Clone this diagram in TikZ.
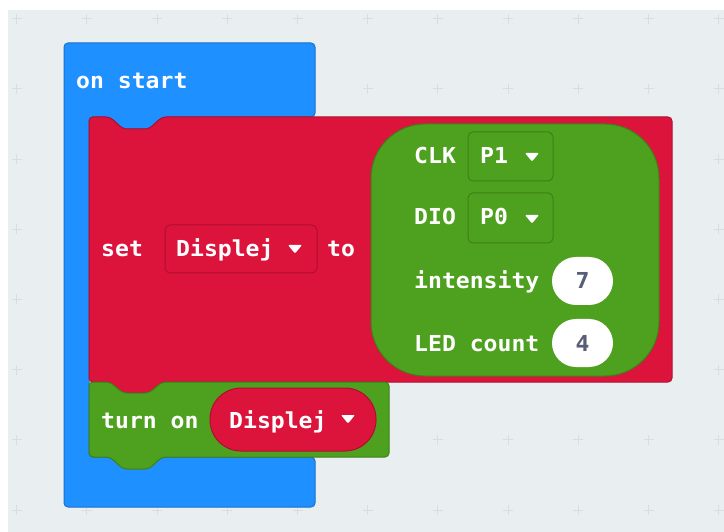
\documentclass[tikz,border=0pt]{standalone}
\usepackage{fontspec}
\newfontfamily\blk[FakeStretch=1.05]{DejaVu Sans Mono}
\definecolor{ws}{HTML}{E9EEF0}
\definecolor{gridc}{HTML}{D8DDE0}
\definecolor{evblue}{HTML}{1E90FF}
\definecolor{evblueD}{HTML}{1873CC}
\definecolor{varred}{HTML}{DC143C}
\definecolor{varredD}{HTML}{B00F30}
\definecolor{tmgreen}{HTML}{4EA01F}
\definecolor{tmgreenD}{HTML}{3E8018}
\definecolor{numtxt}{HTML}{575E75}
\tikzset{
  lbl/.style={font=\blk\bfseries\fontsize{22}{26}\selectfont, text=white, inner sep=0pt, anchor=base west},
  numlbl/.style={font=\blk\bfseries\fontsize{22}{26}\selectfont, text=numtxt, inner sep=0pt, anchor=base},
  drop/.style={fill=white, rounded corners=1pt},
}
\begin{document}
\begin{tikzpicture}[x=1pt,y=-1pt]
\useasboundingbox (0,0) rectangle (724,532);
% page and workspace
\fill[white] (0,0) rectangle (724,532);
\fill[ws] (8,10) rectangle (724,532);
% workspace grid crosses
\foreach \i in {0,...,10}
  \foreach \j in {0,...,7}
    \draw[gridc, line width=1pt] ({16.7+70.2*\i-5},{18.7+70.2*\j}) -- ++(10,0)
      ({16.7+70.2*\i},{18.7+70.2*\j-5}) -- ++(0,10);

% "on start" event block with its statement mouth
\draw[fill=evblue, draw=evblueD, line width=1pt, rounded corners=4pt]
  (64,43) -- (315,43) -- (315,117) -- (162,117) -- (149,129) -- (123,129) -- (110,117)
  -- (89,117) -- (89,457) -- (315,457) -- (315,507) -- (64,507) -- cycle;

% "set ... to" variable block
\draw[fill=varred, draw=varredD, line width=1pt, rounded corners=4pt]
  (89,117) -- (110,117) -- (123,129) -- (149,129) -- (162,117) -- (672,117)
  -- (672,382) -- (162,382) -- (149,393) -- (123,393) -- (110,382) -- (89,382) -- cycle;

% "turn on" block
\draw[fill=tmgreen, draw=tmgreenD, line width=1pt, rounded corners=4pt]
  (89,382) -- (110,382) -- (123,393) -- (149,393) -- (162,382) -- (389,382)
  -- (389,457) -- (162,457) -- (149,469) -- (123,469) -- (110,457) -- (89,457) -- cycle;

% TM1637 create reporter
\draw[fill=tmgreen, draw=tmgreenD, line width=1pt, rounded corners=54pt]
  (371,124) rectangle (659,376);

% dropdown fields
\draw[fill=varred, draw=varredD, line width=1pt, rounded corners=5pt] (165,225) rectangle (317,273);
\draw[fill=tmgreen, draw=tmgreenD, line width=1pt, rounded corners=5pt] (468,132) rectangle (553,181);
\draw[fill=tmgreen, draw=tmgreenD, line width=1pt, rounded corners=5pt] (468,193) rectangle (553,243);
\draw[fill=varred, draw=varredD, line width=1pt, rounded corners=31pt] (210,388) rectangle (376,451);

% number fields
\fill[white, rounded corners=24pt] (552,257) rectangle (613,305);
\fill[white, rounded corners=24pt] (552,319) rectangle (613,367);

% dropdown arrows
\foreach \cx/\cy in {295/249, 532/157, 532/219, 348/419}
  \fill[drop] (\cx-7,\cy-4) -- (\cx+7,\cy-4) -- (\cx,\cy+4.5) -- cycle;

% labels
\node[lbl] (onstart) at (76,89) {on start};
\node[lbl] (set) at (101,257) {set};
\node[lbl] (setvar) at (176,257) {Displej};
\node[lbl] (to) at (327,257) {to};
\node[lbl] (clk) at (414,164) {CLK};
\node[lbl] (clkpin) at (480,164) {P1};
\node[lbl] (dio) at (414,225) {DIO};
\node[lbl] (diopin) at (480,225) {P0};
\node[lbl] (intensity) at (414,288) {intensity};
\node[numlbl] (intval) at (582.5,288) {7};
\node[lbl] (ledcount) at (414,352) {LED count};
\node[numlbl] (ledval) at (582.5,352) {4};
\node[lbl] (turnon) at (101,428) {turn on};
\node[lbl] (onvar) at (229,428) {Displej};
\end{tikzpicture}
\end{document}
